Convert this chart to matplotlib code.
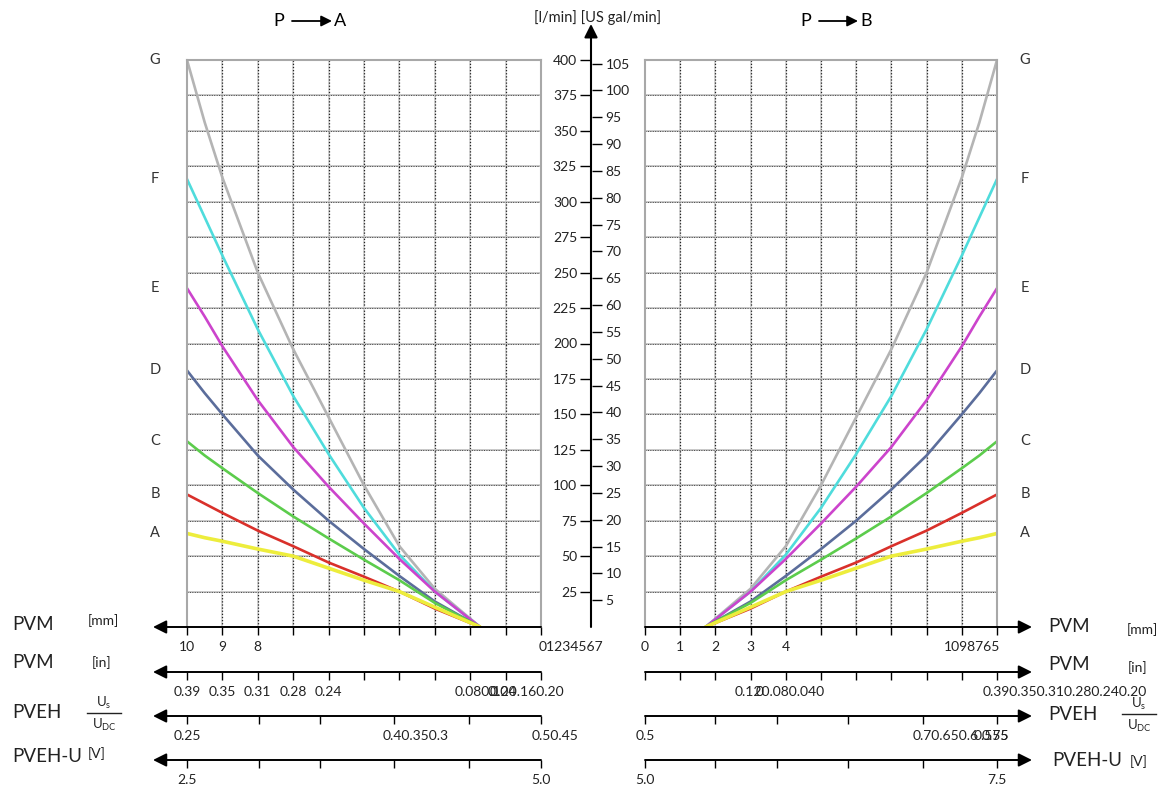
import matplotlib
matplotlib.use("Agg")
import matplotlib.pyplot as plt
from matplotlib.lines import Line2D

plt.rcParams['font.family'] = ['Lato', 'DejaVu Sans']

# spool stroke [mm] where the flow curves were read (curves start at ~1.72 mm)
stroke_mm = [1.72, 3, 4, 5, 6, 7, 8, 9, 9.5, 10]
# flow [l/min] for each curve, same on P->A and P->B side
flow_G = [0, 27, 57, 100, 148, 196, 250, 317, 356, 400]
flow_F = [0, 25, 51, 84, 122, 163, 210, 262, 289, 316]
flow_E = [0, 25, 48, 73, 99, 127, 160, 198, 219, 239]
flow_D = [0, 18, 36, 55, 75, 97, 121, 150, 165, 181]
flow_C = [0, 17, 33, 47.5, 62.5, 78, 94.5, 112, 121, 131]
flow_B = [0, 13, 25, 35.5, 45.5, 57, 68, 80.5, 87, 93.5]
flow_A = [0, 14, 25, 33, 41.5, 50, 55, 60.5, 63, 66]
curve_names = ["G", "F", "E", "D", "C", "B", "A"]
curve_colors = ["#b4b4b4", "#4fdcdc", "#cc44cc", "#5b6d9b", "#5ccc4c", "#d9302a", "#eded3c"]

lpm_ticks = list(range(25, 401, 25))
gal_ticks = list(range(5, 106, 5))
LPM_PER_GAL = 3.785

W, H = 1162, 790


def fx(px):
    return px / W


def fy(py):
    return 1 - py / H


fig = plt.figure(figsize=(11.62, 7.90), dpi=100, facecolor="white")

top, bot = 60, 627
ax_l = fig.add_axes([fx(187), fy(bot), fx(541) - fx(187), (bot - top) / H])
ax_r = fig.add_axes([fx(645), fy(bot), fx(997) - fx(645), (bot - top) / H])
ax_l.set_xlim(10, 0)
ax_r.set_xlim(0, 10)

flows = [flow_G, flow_F, flow_E, flow_D, flow_C, flow_B, flow_A]
for ax, lab_x in [(ax_l, 10.9), (ax_r, 10.8)]:
    ax.set_ylim(0, 400)
    for v in range(1, 10):
        ax.axvline(v, color="#cfcfcf", lw=1.2, zorder=0)
        ax.axvline(v, color="#222222", lw=0.9, ls=(0, (1, 1.5)), zorder=0)
    for h in range(25, 400, 25):
        ax.axhline(h, color="#c8c8c8", lw=1.4, zorder=0)
        ax.axhline(h, color="#444444", lw=0.7, ls=(0, (1, 1.5)), zorder=0)
    for s in ["left", "top", "right"]:
        ax.spines[s].set_color("#a8a8a8")
        ax.spines[s].set_linewidth(1.5)
    ax.spines["bottom"].set_visible(False)
    ax.set_yticks([])
    ax.set_xticks(range(11))
    ax.tick_params(axis="x", direction="out", length=6, width=1, labelbottom=False)
    for name, col, fl in zip(curve_names, curve_colors, flows):
        lw = 2.6 if name == "A" else 1.9
        ax.plot(stroke_mm, fl, color=col, lw=lw, solid_capstyle="round",
                solid_joinstyle="round")
        ax.text(lab_x, fl[-1], name, ha="center", va="center", fontsize=10.5,
                color="#333333", clip_on=False)

arrow_kw = dict(arrowstyle="-|>", color="black", lw=1.4, mutation_scale=20,
                shrinkA=0, shrinkB=0)
L_TIP = (153 - 187) / 354
R_TIP = (1032 - 645) / 352


def label(ax, x, txt, ha="center"):
    ax.annotate(txt, xy=(x, 0), xycoords=ax.get_xaxis_transform(),
                xytext=(0, -10), textcoords="offset points", ha=ha, va="top",
                fontsize=10, color="#222222")


# row 1: PVM [mm]
ax_l.annotate("", xy=(L_TIP, 0), xytext=(1, 0), xycoords="axes fraction", arrowprops=arrow_kw)
ax_r.annotate("", xy=(R_TIP, 0), xytext=(0, 0), xycoords="axes fraction", arrowprops=arrow_kw)
for v, t in [(10, "10"), (9, "9"), (8, "8")]:
    label(ax_l, v, t)
label(ax_l, 0.08, "01234567", ha="left")
for v in range(5):
    label(ax_r, v, str(v))
label(ax_r, 10.1, "1098765", ha="right")

# rows 2-4: extra scales
row_y = [672, 716, 760]
pveh_l = [10, 7.96, 6.23, 4.16, 2.03, 0]
pveh_r = [0, 1.99, 3.76, 5.77, 7.91, 10]
rows = []
for i, py in enumerate(row_y):
    a_l = fig.add_axes([fx(187), fy(py), fx(541) - fx(187), 0.0005])
    a_r = fig.add_axes([fx(645), fy(py), fx(997) - fx(645), 0.0005])
    for a, lim in [(a_l, (10, 0)), (a_r, (0, 10))]:
        a.set_xlim(*lim)
        a.set_yticks([])
        for s in a.spines.values():
            s.set_visible(False)
        a.tick_params(axis="x", direction="out", length=6, width=1, labelbottom=False)
        a.patch.set_alpha(0)
    a_l.annotate("", xy=(L_TIP, 0), xytext=(1, 0), xycoords="axes fraction", arrowprops=arrow_kw)
    a_r.annotate("", xy=(R_TIP, 0), xytext=(0, 0), xycoords="axes fraction", arrowprops=arrow_kw)
    if i == 0:
        a_l.set_xticks(range(11))
        a_r.set_xticks(range(11))
    else:
        a_l.set_xticks(pveh_l)
        a_r.set_xticks(pveh_r)
    rows.append((a_l, a_r))

# PVM [in]
a_l, a_r = rows[0]
for v, t in [(10, "0.39"), (9, "0.35"), (8, "0.31"), (7, "0.28"), (6, "0.24")]:
    label(a_l, v, t)
label(a_l, 2.45, "0.080.120.160.20", ha="left")
label(a_l, 1.45, "0.04", ha="left")
label(a_l, 1.5, "0", ha="left")
label(a_r, 2.55, "0.120.080.040", ha="left")
label(a_r, 3.15, "0", ha="left")
label(a_r, 9.6, "0.390.350.310.280.240.20", ha="left")

# PVEH Us/Udc
a_l, a_r = rows[1]
label(a_l, 10, "0.25")
label(a_l, 4.47, "0.40.350.3", ha="left")
label(a_l, 0.26, "0.50.45", ha="left")
label(a_r, 0, "0.5")
label(a_r, 7.59, "0.70.650.6", ha="left")
label(a_r, 9.35, "0.575", ha="left")
label(a_r, 9.55, "0.55", ha="left")

# PVEH-U [V]
a_l, a_r = rows[2]
label(a_l, 10, "2.5")
label(a_l, 0, "5.0")
label(a_r, 0, "5.0")
label(a_r, 10, "7.5")

# centre flow axis
ax_c = fig.add_axes([fx(591), fy(bot), 0.0005, (bot - top) / H])
ax_c.set_ylim(0, 400)
ax_c.set_xticks([])
for s in ax_c.spines.values():
    s.set_visible(False)
ax_c.set_yticks(lpm_ticks)
ax_c.set_yticklabels([str(v) for v in lpm_ticks])
ax_c.tick_params(axis="y", direction="out", length=8, width=1, labelsize=10,
                 labelcolor="#222222", pad=2)
ax_g = ax_c.twinx()
ax_g.set_ylim(0, 400 / LPM_PER_GAL)
for s in ax_g.spines.values():
    s.set_visible(False)
ax_g.set_yticks(gal_ticks)
ax_g.set_yticklabels([str(v) for v in gal_ticks])
ax_g.tick_params(axis="y", direction="out", length=7, width=1, labelsize=10,
                 labelcolor="#222222", pad=3)
ax_c.annotate("", xy=(0, 1 + 36 / (bot - top)), xytext=(0, 0), xycoords="axes fraction",
              arrowprops=dict(arrowstyle="-|>", color="black", lw=1.5, mutation_scale=20,
                              shrinkA=0, shrinkB=0))
fig.text(fx(598), fy(18), "[l/min] [US gal/min]", ha="center", va="center", fontsize=10.5,
         color="#222222")

# titles
for px_p, px_a, t in [(279, 340, "A"), (806, 866, "B")]:
    fig.text(fx(px_p), fy(21), "P", ha="center", va="center", fontsize=13)
    fig.text(fx(px_a), fy(21), t, ha="center", va="center", fontsize=13)
    ax_c.annotate("", xy=(fx(px_a - 8), fy(21)), xytext=(fx(px_p + 13), fy(21)),
                  xycoords="figure fraction",
                  arrowprops=dict(arrowstyle="-|>", color="black", lw=1.3,
                                  mutation_scale=16, shrinkA=0, shrinkB=0))

# row captions
cap_kw = dict(ha="left", va="center", fontsize=13.5, color="#222222")
unit_kw = dict(ha="left", va="center", fontsize=10, color="#222222")
fig.text(fx(12), fy(624), "PVM", **cap_kw)
fig.text(fx(88), fy(621), "[mm]", **unit_kw)
fig.text(fx(12), fy(663), "PVM", **cap_kw)
fig.text(fx(92), fy(663), "[in]", **unit_kw)
fig.text(fx(12), fy(712), "PVEH", **cap_kw)
fig.text(fx(12), fy(757), "PVEH-U", **cap_kw)
fig.text(fx(88), fy(754), "[V]", **unit_kw)
fig.text(fx(1048), fy(627), "PVM", **cap_kw)
fig.text(fx(1127), fy(630), "[mm]", **unit_kw)
fig.text(fx(1048), fy(665), "PVM", **cap_kw)
fig.text(fx(1128), fy(668), "[in]", **unit_kw)
fig.text(fx(1048), fy(714), "PVEH", **cap_kw)
fig.text(fx(1052), fy(760), "PVEH-U", **cap_kw)
fig.text(fx(1130), fy(762), "[V]", **unit_kw)

# Us / Udc fractions
for cx, cy in [(104, 713), (1139, 714)]:
    fig.text(fx(cx), fy(cy - 10), r"U$_\mathregular{s}$", ha="center", va="center",
             fontsize=9.5, color="#222222")
    fig.text(fx(cx), fy(cy + 12), r"U$_\mathregular{DC}$", ha="center", va="center",
             fontsize=9.5, color="#222222")
    fig.add_artist(Line2D([fx(cx - 17), fx(cx + 17)], [fy(cy), fy(cy)],
                          color="#222222", lw=1))

fig.savefig("out.png", dpi=100, facecolor="white")
